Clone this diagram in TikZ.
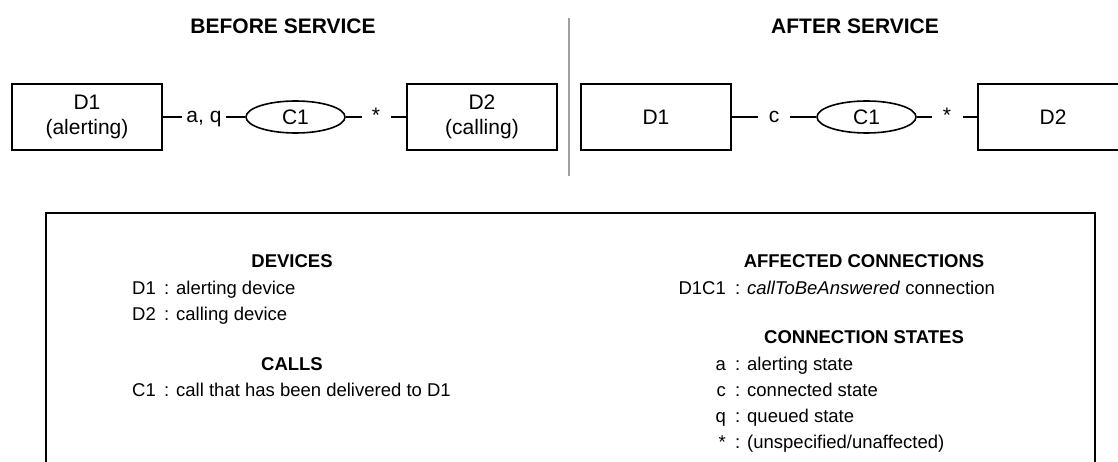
\documentclass[tikz,border=0pt]{standalone}
\usepackage{fontspec}
\setmainfont{Liberation Sans}
\usetikzlibrary{shapes.geometric}
\begin{document}
\begin{tikzpicture}[x=1pt,y=-1pt,
  dev/.style={draw,line width=1.6pt,minimum width=150pt,minimum height=66pt,inner sep=0pt,align=center,font=\fontsize{21}{25.5}\selectfont},
  callnode/.style={draw,ellipse,line width=1.6pt,minimum width=99pt,minimum height=32pt,inner sep=0pt,font=\fontsize{21}{25}\selectfont},
  conn/.style={line width=1.6pt},
  lbl/.style={fill=white,inner sep=0pt,text height=11pt,text depth=0pt,font=\fontsize{21}{25}\selectfont},
  head/.style={font=\bfseries\fontsize{21}{25}\selectfont},
  lhead/.style={font=\bfseries\fontsize{18.5}{22}\selectfont},
  ltxt/.style={font=\fontsize{18.5}{22}\selectfont,inner sep=0pt},
]
\useasboundingbox (0,0) rectangle (1118,462);
\clip (0,0) rectangle (1118,462);

% headings
\node[head] (hbefore) at (283,26) {BEFORE SERVICE};
\node[head] (hafter) at (855,26) {AFTER SERVICE};
\draw[gray!75,line width=1.5pt] (569,18) -- (569,176);

% before service
\node[dev] (bD1) at (87,117) {D1\\(alerting)};
\node[callnode] (bC1) at (295.5,117) {C1};
\node[dev] (bD2) at (482,117) {D2\\(calling)};
\draw[conn] (bD1) -- node[lbl,minimum width=44pt] {a, q} (bC1);
\draw[conn] (bC1) -- node[lbl,minimum width=29pt] {*} (bD2);

% after service
\node[dev] (aD1) at (656,117) {D1};
\node[callnode] (aC1) at (866.5,117) {C1};
\node[dev] (aD2) at (1053,117) {D2};
\draw[conn] (aD1) -- node[lbl,minimum width=32pt] {c} (aC1);
\draw[conn] (aC1) -- node[lbl,minimum width=31pt] {*} (aD2);

% legend box
\draw[line width=1.6pt] (46,213) rectangle (1095,490);

% left column
\node[lhead] (devh) at (292,261) {DEVICES};
\node[ltxt,anchor=base east] (k1) at (156,294) {D1};
\node[ltxt,anchor=base west] (v1) at (164,294) {: alerting device};
\node[ltxt,anchor=base east] (k2) at (156,320) {D2};
\node[ltxt,anchor=base west] (v2) at (164,320) {: calling device};
\node[lhead] (callh) at (292,364) {CALLS};
\node[ltxt,anchor=base east] (k3) at (156,396) {C1};
\node[ltxt,anchor=base west] (v3) at (164,396) {: call that has been delivered to D1};

% right column
\node[lhead] (affh) at (864,261) {AFFECTED CONNECTIONS};
\node[ltxt,anchor=base east] (k4) at (726,294) {D1C1};
\node[ltxt,anchor=base west] (v4) at (735,294) {: \textit{callToBeAnswered} connection};
\node[lhead] (csh) at (864,337) {CONNECTION STATES};
\node[ltxt,anchor=base east] (k5) at (726,370.5) {a};
\node[ltxt,anchor=base west] (v5) at (735,370.5) {: alerting state};
\node[ltxt,anchor=base east] (k6) at (726,396.5) {c};
\node[ltxt,anchor=base west] (v6) at (735,396.5) {: connected state};
\node[ltxt,anchor=base east] (k7) at (726,422.5) {q};
\node[ltxt,anchor=base west] (v7) at (735,422.5) {: queued state};
\node[ltxt,anchor=base east] (k8) at (726,448.5) {*};
\node[ltxt,anchor=base west] (v8) at (735,448.5) {: (unspecified/unaffected)};
\end{tikzpicture}
\end{document}
